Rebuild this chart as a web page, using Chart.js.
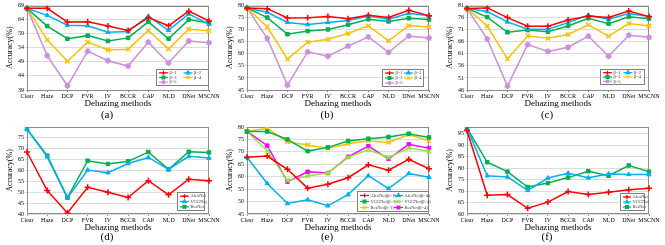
<!DOCTYPE html>
<html>
<head>
<meta charset="utf-8">
<script src="https://cdn.jsdelivr.net/npm/chart.js@4.4.1/dist/chart.umd.min.js"></script>
<style>
  body { margin: 0; background: #fff; width: 665px; height: 245px; position: relative; overflow: hidden; }
  canvas { position: absolute; }
</style>
</head>
<body>
<canvas id="chartA" width="220" height="120" style="left:0;top:0"></canvas>
<canvas id="chartB" width="220" height="120" style="left:220px;top:0"></canvas>
<canvas id="chartC" width="225" height="120" style="left:440px;top:0"></canvas>
<canvas id="chartD" width="220" height="125" style="left:0;top:120px"></canvas>
<canvas id="chartE" width="220" height="125" style="left:220px;top:120px"></canvas>
<canvas id="chartF" width="225" height="125" style="left:440px;top:120px"></canvas>
<script>
// categories and legend labels
const methods = ['Clear', 'Haze', 'DCP', 'FVR', 'IV', 'BCCR', 'CAP', 'NLD', 'DNet', 'MSCNN'];
const betaLabels = ['β=1', 'β=2', 'β=3', 'β=4', 'β=5'];
const netLabels = ['AlexNet', 'VGGNet', 'ResNet'];
const mixLabels = ['AlexNet(β=1)', 'AlexNet(β=4)', 'VGGNet(β=1)', 'VGGNet(β=4)', 'ResNet(β=1)', 'ResNet(β=4)'];

// (a)
const aBeta1 = [68, 68, 63.1, 63.2, 61.7, 60.1, 64.7, 61.8, 67, 63.5];
const aBeta2 = [68, 65.5, 62, 61.8, 59.5, 59.8, 65.2, 60.2, 66, 62.3];
const aBeta3 = [68, 61.7, 57.2, 58.3, 56.4, 57.5, 63.2, 57.2, 64, 62.8];
const aBeta4 = [68, 56.8, 49.2, 56, 53.2, 53.5, 60.1, 53.6, 60.6, 60];
const aBeta5 = [68, 51.2, 40.5, 52.8, 49.4, 47.5, 56, 48.6, 56.4, 55.8];
const ticksA = [39, 44, 49, 54, 59, 64, 69];

// (b)
const bBeta1 = [79, 78.7, 74.8, 74.9, 75.4, 74.5, 76, 75, 78, 75.8];
const bBeta2 = [79, 77.2, 73, 72.1, 73, 73.8, 75.6, 74.3, 76.8, 75.8];
const bBeta3 = [79, 75, 68.1, 69.4, 70.1, 72, 74.3, 73.4, 74.7, 74.2];
const bBeta4 = [79, 71.2, 57.8, 64.8, 66, 68.4, 71.6, 65.4, 71.7, 71.1];
const bBeta5 = [79, 66.4, 47, 60.8, 59, 63.2, 67, 60.6, 67.4, 66.5];
const ticksB = [45, 50, 55, 60, 65, 70, 75, 80];

// (c)
const cBeta1 = [79.8, 80, 76, 72.4, 72.4, 75, 76.6, 76, 78.7, 76.4];
const cBeta2 = [79.8, 78.5, 74.2, 71.2, 71.2, 73.9, 77, 75.3, 77.7, 76.4];
const cBeta3 = [79.8, 76.2, 69.9, 70.8, 70.1, 72.5, 75.7, 73.5, 76.3, 75.5];
const cBeta4 = [79.8, 72.5, 58.9, 68.4, 67.4, 69, 73, 68.3, 73.5, 72.5];
const cBeta5 = [79.8, 67.1, 47.6, 64.8, 62, 63.7, 68.3, 60, 68.7, 67.8];
const ticksC = [46, 51, 56, 61, 66, 71, 76, 81];

// (d)
const dAlex = [68.5, 50.8, 40.5, 52.3, 50, 47.6, 55.3, 48.8, 56, 55.3];
const dVgg = [79, 66.3, 47.5, 60.2, 59, 63.2, 66, 60.5, 66.5, 65.7];
const dRes = [79, 66.8, 47.5, 64.5, 63, 64.2, 68.5, 60.5, 68.6, 68.3];
const ticksD = [40, 45, 50, 55, 60, 65, 70, 75];

// (e)
const eAlex1 = [67.8, 68.3, 63, 55.4, 57, 59.6, 64.8, 62.6, 67, 63.2];
const eAlex4 = [67.8, 57.3, 49.2, 50.7, 48.3, 52.8, 60.4, 55.2, 61.3, 59.8];
const eVgg1 = [78.2, 78.2, 75, 70.3, 71.8, 74.4, 75.3, 76, 77.3, 75.8];
const eVgg4 = [78.2, 70.5, 58.5, 60.3, 61.5, 67.8, 70.8, 67.8, 71.5, 70.2];
const eRes1 = [78.2, 79.5, 74, 72.8, 71.5, 73.3, 74.5, 73.8, 77, 74.5];
const eRes4 = [78.2, 72.5, 58, 62, 61.5, 68, 72.3, 67.2, 73, 71.5];
const ticksE = [45, 50, 55, 60, 65, 70, 75, 80];

// (f)
const fAlex = [96.5, 68.2, 68.5, 62.5, 65.2, 69.8, 68.5, 69.5, 70.6, 71.3];
const fVgg = [97.5, 76.7, 76.2, 70.3, 75.7, 77.8, 75.8, 77.5, 77.3, 77.2];
const fRes = [97.5, 82.6, 78.5, 71.8, 73.5, 75.9, 78.7, 76.7, 81.2, 78.5];
const ticksF = [60, 65, 70, 75, 80, 85, 90, 95];

const FONT = 'Liberation Serif';

// series looks
const RED = { color: '#FF0000', point: 'cross' };
const BLUE = { color: '#00B0F0', point: 'triangle' };
const GREEN = { color: '#00B050', point: 'rect' };
const ORANGE = { color: '#FFC000', point: 'crossRot' };
const PURPLE = { color: '#CC8FDB', point: 'star' };
const LIME = { color: '#8FE83A', point: 'crossRot' };
const MAGENTA = { color: '#FF00FF', point: 'rect' };

function series(label, data, look) {
  const open = look.point === 'cross' || look.point === 'crossRot' || look.point === 'star';
  return {
    label, data,
    borderColor: look.color,
    backgroundColor: look.color,
    pointBackgroundColor: look.color,
    pointBorderColor: look.color,
    pointStyle: look.point,
    pointRadius: open ? 3 : 2.5,
    pointBorderWidth: open ? 1.5 : 1,
    borderWidth: 1.5,
    tension: 0
  };
}

// gray box round the plot area
const frame = {
  id: 'frame',
  beforeDatasetsDraw(chart) {
    const { ctx, chartArea: a } = chart;
    ctx.save();
    ctx.strokeStyle = '#8c8c8c';
    ctx.lineWidth = 1;
    ctx.strokeRect(Math.round(a.left) + 0.5, Math.round(a.top) + 0.5, Math.round(a.width) - 1, Math.round(a.height) - 1);
    ctx.restore();
  }
};

// legend drawn inside the plot area, lower right
const boxLegend = {
  id: 'boxLegend',
  afterDatasetsDraw(chart, args, o) {
    const { ctx, chartArea: a } = chart;
    const x = Math.round(a.right - o.right - o.width), y = Math.round(a.bottom - o.bottom - o.height);
    ctx.save();
    ctx.fillStyle = '#fff';
    ctx.fillRect(x, y, o.width, o.height);
    ctx.strokeStyle = '#808080';
    ctx.lineWidth = 1;
    ctx.strokeRect(x + 0.5, y + 0.5, o.width - 1, o.height - 1);
    const sets = chart.data.datasets;
    const rows = Math.ceil(sets.length / o.cols);
    const cw = (o.width - 4) / o.cols, rh = (o.height - 3) / rows;
    ctx.font = o.fontSize + 'px "' + FONT + '"';
    ctx.textBaseline = 'middle';
    sets.forEach((ds, i) => {
      const lx = x + 3 + (i % o.cols) * cw;
      const ly = y + 1.5 + (Math.floor(i / o.cols) + 0.5) * rh;
      ctx.strokeStyle = ds.borderColor;
      ctx.fillStyle = ds.borderColor;
      ctx.lineWidth = 1.2;
      ctx.beginPath();
      ctx.moveTo(lx, ly);
      ctx.lineTo(lx + o.line, ly);
      ctx.stroke();
      if (Chart.helpers && Chart.helpers.drawPoint) {
        Chart.helpers.drawPoint(ctx, { pointStyle: ds.pointStyle, radius: 2, borderWidth: 1, rotation: 0 }, lx + o.line / 2, ly);
      } else {
        ctx.fillRect(lx + o.line / 2 - 1.5, ly - 1.5, 3, 3);
      }
      ctx.fillStyle = '#333';
      ctx.fillText(ds.label, lx + o.line + 1.5, ly);
    });
    ctx.restore();
  }
};

function makeChart(id, datasets, yTicks, yMin, yMax, legend, caption, top) {
  const canvas = document.getElementById(id);
  const W = canvas.width;
  const topRow = top;
  return new Chart(canvas.getContext('2d'), {
    type: 'line',
    data: { labels: methods, datasets },
    plugins: [frame, boxLegend],
    options: {
      responsive: false,
      animation: false,
      layout: { padding: { left: 5, right: W - 209, top: topRow ? 4 : 7, bottom: topRow ? 0 : 3 } },
      plugins: {
        legend: { display: false },
        tooltip: { enabled: false },
        title: {
          display: true, position: 'bottom', text: caption, color: '#000',
          font: { family: FONT, size: 11, weight: 'normal', lineHeight: 0.8 },
          padding: 0
        },
        boxLegend: legend
      },
      scales: {
        x: {
          offset: false,
          grid: { display: true, drawOnChartArea: false, drawTicks: true, tickLength: 2, color: '#808080' },
          border: { display: false },
          ticks: { font: { family: FONT, size: 6 }, color: '#000', padding: 1, maxRotation: 0, autoSkip: false },
          title: {
            display: true, text: 'Dehazing methods', color: '#000',
            font: { family: FONT, size: 9 }, padding: { top: 0, bottom: topRow ? 1.8 : 0 }
          },
          afterFit(s) { s.height = topRow ? 21.2 : 19.2; s.paddingLeft = 0; s.paddingRight = 0; }
        },
        y: {
          min: yMin, max: yMax,
          afterBuildTicks(s) { s.ticks = yTicks.map(v => ({ value: v })); },
          grid: { color: '#dcdcdc', drawTicks: true, tickLength: 2 },
          border: { display: false },
          ticks: { font: { family: FONT, size: 6 }, color: '#000', padding: 1 },
          title: { display: true, text: 'Accuracy(%)', color: '#000', font: { family: FONT, size: 8 }, padding: 0 },
          afterFit(s) { s.width = 22; s.paddingTop = 0; s.paddingBottom = 0; }
        }
      }
    }
  });
}

const betaLooks = [RED, BLUE, GREEN, ORANGE, PURPLE];

makeChart('chartA',
  [aBeta1, aBeta2, aBeta3, aBeta4, aBeta5].map((d, i) => series(betaLabels[i], d, betaLooks[i])),
  ticksA, 39, 69, { right: 0, bottom: 4, width: 53, height: 17, cols: 2, line: 9, fontSize: 4.5 }, '(a)', true);

makeChart('chartB',
  [bBeta1, bBeta2, bBeta3, bBeta4, bBeta5].map((d, i) => series(betaLabels[i], d, betaLooks[i])),
  ticksB, 45, 80, { right: 5, bottom: 3, width: 42, height: 18, cols: 2, line: 9, fontSize: 4.5 }, '(b)', true);

makeChart('chartC',
  [cBeta1, cBeta2, cBeta3, cBeta4, cBeta5].map((d, i) => series(betaLabels[i], d, betaLooks[i])),
  ticksC, 46, 81, { right: 4, bottom: 5, width: 45, height: 16, cols: 2, line: 9, fontSize: 4.5 }, '(c)', true);

makeChart('chartD',
  [dAlex, dVgg, dRes].map((d, i) => series(netLabels[i], d, [RED, BLUE, GREEN][i])),
  ticksD, 40, 80, { right: 4, bottom: 3, width: 28, height: 19, cols: 1, line: 9, fontSize: 4.5 }, '(d)', false);

makeChart('chartE',
  [eAlex1, eAlex4, eVgg1, eVgg4, eRes1, eRes4].map((d, i) => series(mixLabels[i], d, [RED, BLUE, GREEN, LIME, ORANGE, MAGENTA][i])),
  ticksE, 45, 80, { right: 0, bottom: 2, width: 72, height: 21, cols: 2, line: 9, fontSize: 4.5 }, '(e)', false);

makeChart('chartF',
  [fAlex, fVgg, fRes].map((d, i) => series(netLabels[i], d, [RED, BLUE, GREEN][i])),
  ticksF, 60, 98, { right: 4, bottom: 3, width: 25, height: 18, cols: 1, line: 8, fontSize: 4.5 }, '(f)', false);
</script>
</body>
</html>
